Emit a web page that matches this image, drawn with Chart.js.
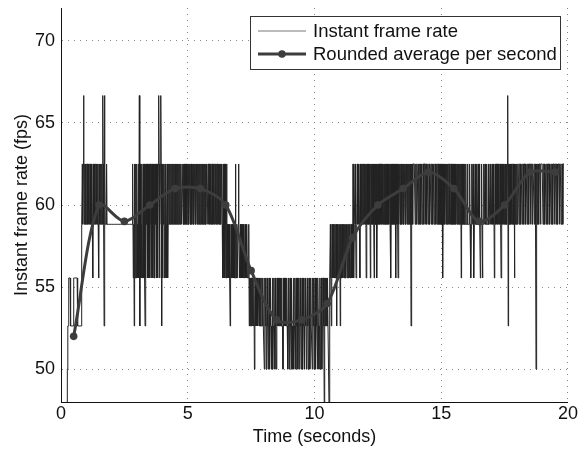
<!DOCTYPE html>
<html>
<head>
<meta charset="utf-8">
<script src="https://cdn.jsdelivr.net/npm/chart.js@4.4.1/dist/chart.umd.min.js"></script>
<style>
  html, body { margin: 0; padding: 0; background: #fff; }
  #wrap { width: 579px; height: 449px; }
</style>
</head>
<body>
<div id="wrap"><canvas id="fpsChart" width="579" height="449"></canvas></div>
<script>
// one character per rendered frame -> frame duration in ms
const codeMs = { '5': 15, '6': 16, '7': 17, '8': 18, '9': 19, '0': 20, '1': 21 };
// the very first frame (start-up) takes long
const startupMs = 230;

const frameRuns = [
  // 0.2 - 0.8 s
  '0998888999999988888888999999999',
  // 0.8 - 1.9 s
  '76765676767766767676676767',
  '867676766767678676767667567956',
  '77767777',
  // 1.9 - 2.8 s, steady 17 ms
  '77777777', '77777777', '77777777', '77777777', '77777777', '77777777', '77777777',
  // 2.8 - 4.3 s
  '68796876867876859687868768689',
  '6867686786876687686786867686786', '5', '6876', '5', '6', '9', '6867687686786876',
  // 4.3 - 6.3 s
  '6767667676766767676676766767667',
  '7667676766767667676676767667676',
  '6767667676676766767676676767667',
  '7676676767667676766767676676767',
  '676',
  // 6.3 - 7.4 s
  '6786876867868', '787878', '9', '87787878788', '6', '787887', '6', '78878787887888787878887',
  // 7.4 - 8.0 s
  '98989889898', '0', '9898989889898998989',
  // 8.0 - 10.4 s
  '9089809890980989098098908909',
  '8989989898990898989989',
  '0980989089098098908980980989098098',
  '9089809890980989908980980989089098098098',
  // 10.4 - 10.6 s
  '89', '1', '898989899', '1', '8',
  // 10.6 - 11.5 s
  '878', '9', '87878787877', '9', '7878787', '9', '787878778787877878778787',
  // 11.5 - 12.3 s
  '7878', '6', '7877', '6', '787767', '6767', '8', '67676767667676', '8', '676767676', '8', '6767',
  // 12.3 - 13.0 s
  '6767', '8', '67676', '8', '767676767667676767676767667676',
  // 13.0 - 14.0 s
  '676', '8', '67676676766', '8', '6767', '8', '676676767667676676766767667676', '9', '67676', '66',
  // 14.0 - 15.0 s
  '6676676667667666766766676667667666766766676667667666766766676',
  // 15.0 - 16.0 s
  '67676767', '8', '6766766767667667676676676766767667667676676', '8', '676767',
  // 16.0 - 17.0 s
  '7677677767', '777677', '8', '767767', '8', '77677677767677', '8', '7767', '8', '77677677767776777',
  // 17.0 - 18.0 s
  '6767767676', '8', '767676676767667', '8', '676767676767', '676', '5', '9', '67676767676676', '8', '6767',
  // 18.0 - 19.0 s
  '66766676667666766676667666766676667666766', '667667', '0', '66766676667666',
  // 19.0 - 19.9 s
  '667666766676667666766676667666766676667666766676667666'
];

// rounded frame count of each second, plotted mid-second
const avgTimes = [0.5, 1.5, 2.5, 3.5, 4.5, 5.5, 6.5, 7.5, 8.5, 9.5,
                  10.5, 11.5, 12.5, 13.5, 14.5, 15.5, 16.5, 17.5, 18.5, 19.5];
const avgFps = [52, 60, 59, 60, 61, 61, 60, 56, 53, 53,
                54, 58, 60, 61, 62, 61, 59, 60, 62, 62];

const xTicks = [0, 5, 10, 15, 20];
const yTicks = [50, 55, 60, 65, 70];

const FONT = '"Liberation Sans", Arial, Helvetica, sans-serif';

// instant frame rate = 1000 / frame duration, placed at the end time of each frame
const instantPoints = [];
let clockMs = startupMs;
instantPoints.push({ x: clockMs / 1000, y: 1000 / startupMs });
frameRuns.join('').split('').forEach(c => {
  const ms = codeMs[c];
  clockMs += ms;
  instantPoints.push({ x: clockMs / 1000, y: 1000 / ms });
});

const avgPoints = avgTimes.map((t, i) => ({ x: t, y: avgFps[i] }));

// boxed legend in the upper right corner of the plot
const boxLegend = {
  id: 'boxLegend',
  afterDatasetsDraw(chart) {
    const { ctx, chartArea } = chart;
    const w = 310, h = 53;
    const right = Math.round(chartArea.right) - 8;
    const top = Math.round(chartArea.top) + 8;
    const left = right - w;
    ctx.save();
    ctx.fillStyle = '#fff';
    ctx.fillRect(left, top, w, h);
    ctx.strokeStyle = '#333';
    ctx.lineWidth = 1;
    ctx.strokeRect(left + 0.5, top + 0.5, w, h);
    ctx.font = '18.5px ' + FONT;
    ctx.textBaseline = 'middle';
    chart.data.datasets.forEach((ds, i) => {
      const y = top + 15 + i * 23;
      ctx.beginPath();
      ctx.moveTo(left + 8, y);
      ctx.lineTo(left + 56, y);
      ctx.strokeStyle = ds.legendColor || ds.borderColor;
      ctx.lineWidth = ds.borderWidth;
      ctx.stroke();
      if (ds.pointRadius) {
        ctx.beginPath();
        ctx.arc(left + 32, y, ds.pointRadius, 0, Math.PI * 2);
        ctx.fillStyle = ds.pointBackgroundColor;
        ctx.fill();
      }
      ctx.fillStyle = '#111';
      ctx.fillText(ds.label, left + 63, y + 1);
    });
    ctx.restore();
  }
};

new Chart(document.getElementById('fpsChart'), {
  type: 'line',
  data: {
    datasets: [
      {
        label: 'Instant frame rate',
        data: instantPoints,
        borderColor: '#222',
        legendColor: '#777',
        borderWidth: 1,
        pointRadius: 0,
        tension: 0,
        order: 1
      },
      {
        label: 'Rounded average per second',
        data: avgPoints,
        borderColor: '#3d3d3d',
        borderWidth: 3,
        pointRadius: 3.8,
        pointBackgroundColor: '#3d3d3d',
        pointBorderWidth: 0,
        tension: 0.3,
        order: 0
      }
    ]
  },
  options: {
    responsive: false,
    animation: false,
    layout: { padding: { top: 8, right: 10, left: 0, bottom: 0 } },
    plugins: {
      legend: { display: false },
      tooltip: { enabled: false }
    },
    scales: {
      x: {
        type: 'linear',
        min: 0,
        max: 20,
        afterBuildTicks: s => { s.ticks = xTicks.map(v => ({ value: v })); },
        afterFit: s => { s.height = 47; },
        ticks: { font: { family: FONT, size: 18 }, color: '#111', padding: 1, maxRotation: 0 },
        grid: { color: '#888', lineWidth: 1, drawTicks: false },
        border: { display: true, color: '#111', width: 1, dash: [1, 5] },
        title: {
          display: true,
          text: 'Time (seconds)',
          font: { family: FONT, size: 18 },
          color: '#111',
          padding: { top: 0, bottom: 1 }
        }
      },
      y: {
        type: 'linear',
        min: 48,
        max: 72,
        afterBuildTicks: s => { s.ticks = yTicks.map(v => ({ value: v })); },
        afterFit: s => { s.width = 61; s.paddingTop = 0; s.paddingBottom = 0; },
        ticks: { font: { family: FONT, size: 18 }, color: '#111', padding: 6 },
        grid: { color: '#888', lineWidth: 1, drawTicks: false },
        border: { display: true, color: '#111', width: 1, dash: [1, 5] },
        title: {
          display: true,
          text: 'Instant frame rate (fps)',
          font: { family: FONT, size: 18 },
          color: '#111',
          padding: { top: 11, bottom: 0 }
        }
      }
    }
  },
  plugins: [boxLegend]
});
</script>
</body>
</html>
